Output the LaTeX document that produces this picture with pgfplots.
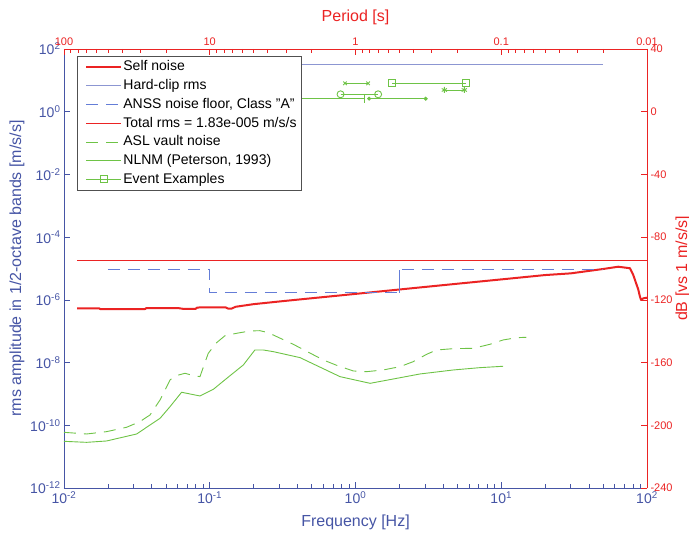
\documentclass[border=0pt]{standalone}
\usepackage{fontspec}
\setmainfont{Liberation Sans}
\usepackage{pgfplots}
\pgfplotsset{compat=1.18}
\definecolor{axblue}{RGB}{70,85,165}
\definecolor{myred}{RGB}{235,35,35}
\definecolor{mygreen}{RGB}{110,195,70}
\definecolor{clipblue}{RGB}{140,150,210}
\definecolor{anssblue}{RGB}{100,125,215}
\definecolor{legframe}{RGB}{80,80,80}
\newcommand{\tp}[1]{10\textsuperscript{#1}}
\begin{document}
\begin{tikzpicture}
\begin{axis}[
  at={(0pt,0pt)}, anchor=south west,
  scale only axis, width=583pt, height=439pt,
  xmode=log, ymode=log,
  xmin=0.01, xmax=100, ymin=1e-12, ymax=1e2,
  axis x line*=bottom, axis y line*=left,
  axis line style={axblue, line width=0.8pt},
  every tick/.style={axblue, line width=0.6pt},
  tick align=inside,
  major tick length=6pt, minor tick length=4pt,
  xtick={0.01,0.1,1,10,100},
  xticklabels={\tp{-2},\tp{-1},\tp{0},\tp{1},\tp{2}},
  ytick={1e-12,1e-10,1e-8,1e-6,1e-4,1e-2,1,1e2},
  yticklabels={\tp{-12},\tp{-10},\tp{-8},\tp{-6},\tp{-4},\tp{-2},\tp{0},\tp{2}},
  yminorticks=false,
  ticklabel style={font=\fontsize{14}{14}\selectfont, text=axblue},
  xlabel={Frequency [Hz]},
  ylabel={rms amplitude in 1/2-octave bands [m/s/s]},
  every axis x label/.style={at={(axis description cs:0.5,0)}, yshift=-34pt, anchor=center, font=\fontsize{16}{16}\selectfont, text=axblue},
  every axis y label/.style={at={(axis description cs:0,0.5)}, xshift=-47pt, rotate=90, anchor=center, font=\fontsize{16}{16}\selectfont, text=axblue},
  legend image code/.code={\path (0pt,0pt); \draw[mark repeat=2,mark phase=2,#1] plot coordinates {(4pt,0pt) (21.5pt,0pt) (39pt,0pt)};},
  legend style={at={(axis description cs:0.0223,0.984)}, anchor=north west,
    draw=legframe, line width=0.8pt, fill=white,
    font=\fontsize{14}{14}\selectfont,
    inner xsep=4pt, inner ysep=3pt, row sep=3.2pt,
    nodes={inner sep=1pt, text height=10.5pt, text depth=3pt},
    /tikz/every even column/.append style={column sep=2pt}},
  legend cell align=left,
  clip=false,
]
% Self noise
\addplot[draw=myred, line width=2pt, line join=round] coordinates {
(0.0123,5.39e-7) (0.0174,5.39e-7) (0.0177,5.1e-7) (0.036,5.1e-7)
(0.0366,5.45e-7) (0.061,5.45e-7) (0.066,5.15e-7) (0.08,5.15e-7)
(0.082,5.7e-7) (0.128,5.8e-7) (0.133,5.3e-7) (0.142,5.3e-7)
(0.15,6.0e-7) (0.2,7.3e-7) (0.236,7.9e-7) (0.3,8.87e-7)
(0.5,1.125e-6) (1,1.55e-6) (2,2.14e-6) (5,3.27e-6) (10,4.49e-6)
(20,6.18e-6) (30,7.0e-6) (50.1,9.66e-6) (63.5,1.14e-5) (76.4,1.02e-5)
(80.5,6.21e-6) (85,2.98e-6) (87,2.2e-6) (89.5,1.26e-6) (91,1.0e-6) (94.4,1.12e-6) (100,1.17e-6)};
\addlegendentry{Self noise}
% Hard-clip rms
\addplot[draw=clipblue, line width=1pt] coordinates {(0.0123,31.6) (50,31.6)};
\addlegendentry{Hard-clip rms}
% ANSS
\addplot[draw=anssblue, line width=1pt, dash pattern=on 12pt off 8pt] coordinates {
(0.02,9e-6) (0.1,9e-6) (0.1,1.66e-6) (2,1.66e-6) (2,9e-6) (50,9e-6)};
\addlegendentry{ANSS noise floor, Class "A"}
% Total rms
\addplot[draw=myred, line width=1.5pt] coordinates {(0.0123,1.83e-5) (100,1.83e-5)};
\addlegendentry{Total rms = 1.83e-005 m/s/s}
% ASL vault noise
\addplot[draw=mygreen, line width=0.9pt, dash pattern=on 12pt off 8pt] coordinates {
(0.01,5.97e-11) (0.0143,5.28e-11) (0.0196,6.27e-11) (0.0269,8.65e-11)
(0.0332,1.31e-10) (0.0389,2.13e-10) (0.0456,6.41e-10) (0.0534,2.79e-9)
(0.0578,3.74e-9) (0.0676,4.55e-9) (0.0792,3.74e-9) (0.0857,3.56e-9)
(0.0977,1.98e-8) (0.1116,4.33e-8) (0.1274,7.23e-8) (0.153,8.59e-8)
(0.189,1.02e-7) (0.221,1.04e-7) (0.252,8.99e-8) (0.374,3.83e-8)
(0.601,1.21e-8) (0.743,8.18e-9) (0.966,5.40e-9) (1.19,5.13e-9)
(1.55,5.81e-9) (2.02,7.41e-9) (2.49,1.07e-8) (3.08,1.84e-8)
(3.60,2.52e-8) (4.69,2.78e-8) (6.43,2.85e-8) (8.37,3.83e-8)
(10.3,5.26e-8) (12.8,6.22e-8) (14.9,6.41e-8)};
\addlegendentry{ASL vault noise}
% NLNM
\addplot[draw=mygreen, line width=0.9pt] coordinates {
(0.01,3.08e-11) (0.0143,2.86e-11) (0.0196,3.16e-11) (0.0315,5.28e-11)
(0.0456,1.67e-10) (0.0534,3.93e-10) (0.0641,1.13e-9) (0.0857,8.61e-10)
(0.106,1.41e-9) (0.131,3.16e-9) (0.170,8.38e-9) (0.204,2.52e-8)
(0.233,2.52e-8) (0.273,2.23e-8) (0.416,1.44e-8) (0.783,3.56e-9)
(1.26,2.18e-9) (1.82,3.00e-9) (2.77,4.33e-9) (4.69,5.81e-9)
(7.14,6.89e-9) (10.3,7.62e-9)};
\addlegendentry{NLNM (Peterson, 1993)}
% Event examples
\addplot[draw=mygreen, line width=0.9pt, mark=square, mark size=3.5pt, mark options={solid, draw=mygreen}] coordinates {(1.79,8.05) (5.73,8.05)};
\addlegendentry{Event Examples}
\addplot[draw=mygreen, line width=0.9pt, mark=x, mark size=2.5pt, forget plot] coordinates {(0.847,8.05) (1.22,8.05)};
\addplot[draw=mygreen, line width=0.9pt, mark=asterisk, mark size=3pt, forget plot] coordinates {(4.07,4.93) (5.58,4.93)};
\addplot[draw=mygreen, line width=0.9pt, mark=o, mark size=3.5pt, forget plot] coordinates {(0.79,3.59) (1.43,3.59)};
\addplot[draw=mygreen, line width=0.9pt, mark=|, mark size=4pt, forget plot] coordinates {(0.2,2.60) (1.16,2.60)};
\addplot[draw=mygreen, fill=mygreen, line width=0.9pt, mark=*, mark size=1.5pt, forget plot] coordinates {(1.24,2.60) (3.03,2.60)};
\addplot[draw=anssblue, line width=1pt, forget plot] coordinates {(2,1.66e-6) (2,9e-6)};
\end{axis}
\begin{axis}[
  at={(0pt,0pt)}, anchor=south west,
  scale only axis, width=583pt, height=439pt,
  xmode=log, x dir=reverse,
  xmin=0.01, xmax=100, ymin=-240, ymax=40,
  axis x line*=top, axis y line*=right,
  axis line style={myred, line width=0.8pt},
  every tick/.style={myred, line width=0.6pt},
  tick align=inside,
  major tick length=6pt, minor tick length=4pt,
  xtick={0.01,0.1,1,10,100},
  xticklabels={0.01,0.1,1,10,100},
  ytick={-240,-200,-160,-120,-80,-40,0,40},
  yticklabels={-240,-200,-160,-120,-80,-40,0,40},
  ticklabel style={font=\fontsize{11}{11}\selectfont, text=myred},
  xlabel={Period [s]},
  ylabel={dB [vs 1 m/s/s]},
  every axis x label/.style={at={(axis description cs:0.5,1)}, yshift=32pt, anchor=center, font=\fontsize{16}{16}\selectfont, text=myred},
  every axis y label/.style={at={(axis description cs:1,0.5)}, xshift=36pt, rotate=90, anchor=center, font=\fontsize{16}{16}\selectfont, text=myred},
]
\addplot[draw=none, forget plot] coordinates {(1,0)};
\end{axis}
\pgfresetboundingbox
\path[use as bounding box] (-64pt,-45pt) rectangle (625pt,488pt);
\end{tikzpicture}
\end{document}
